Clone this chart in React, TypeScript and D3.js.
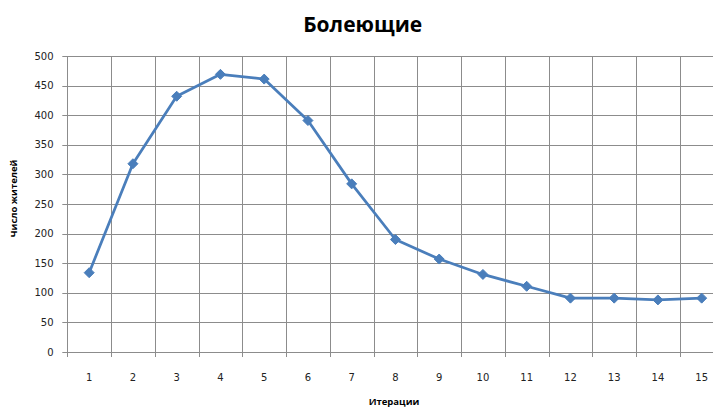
import React from "react";
import * as d3 from "d3";

const iterations = [1, 2, 3, 4, 5, 6, 7, 8, 9, 10, 11, 12, 13, 14, 15];
const sick = [134, 318, 432, 469, 461, 391, 284, 190, 157, 131, 111, 91, 91, 88, 91];
const yTicks = [0, 50, 100, 150, 200, 250, 300, 350, 400, 450, 500];
const title = "Болеющие";
const xTitle = "Итерации";
const yTitle = "Число жителей";

const W = 713;
const H = 408;
const left = 67.3;
const step = 43.75;
const right = left + step * iterations.length;
const top = 56;
const bottom = 352;

export default function App() {
  const x = d3
    .scaleBand<number>()
    .domain(iterations)
    .range([left, right])
    .padding(0);
  const y = d3.scaleLinear().domain([0, 500]).range([bottom, top]);
  const cx = (d: number) => (x(d) as number) + x.bandwidth() / 2;
  const line = d3
    .line<number>()
    .x((_, i) => cx(iterations[i]))
    .y((d) => y(d))
    .curve(d3.curveLinear);
  const gridColor = "#8c8c8c";
  const blue = "#4a7ebb";
  const boundaries = iterations.map((d) => x(d) as number).concat([right]);
  const diamond = (px: number, py: number, r: number) =>
    `M${px},${py - r}L${px + r},${py}L${px},${py + r}L${px - r},${py}Z`;

  return (
    <svg
      width={W}
      height={H}
      style={{ position: "absolute", left: 0, top: 0, background: "#fff" }}
    >
      <rect x={0} y={0} width={W} height={H} fill="#fff" />
      {yTicks.map((t) => (
        <line
          key={"h" + t}
          x1={left - 5}
          x2={Math.min(right, W)}
          y1={Math.round(y(t)) + 0.5}
          y2={Math.round(y(t)) + 0.5}
          stroke={gridColor}
          strokeWidth={1}
        />
      ))}
      {boundaries.map((b, i) => (
        <line
          key={"v" + i}
          x1={Math.round(b) + 0.5}
          x2={Math.round(b) + 0.5}
          y1={top}
          y2={bottom + 5}
          stroke={gridColor}
          strokeWidth={1}
        />
      ))}
      {yTicks.map((t) => (
        <text
          key={"yl" + t}
          x={53.5}
          y={y(t)}
          dy="0.35em"
          textAnchor="end"
          fontFamily="DejaVu Sans, Verdana, sans-serif"
          fontSize={10}
          fill="#222"
        >
          {t}
        </text>
      ))}
      {iterations.map((d) => (
        <text
          key={"xl" + d}
          x={cx(d)}
          y={381}
          textAnchor="middle"
          fontFamily="DejaVu Sans, Verdana, sans-serif"
          fontSize={10}
          fill="#222"
        >
          {d}
        </text>
      ))}
      <path d={line(sick) || ""} fill="none" stroke={blue} strokeWidth={2.75} strokeLinejoin="round" />
      {sick.map((v, i) => (
        <path key={"m" + i} d={diamond(cx(iterations[i]), y(v), 5)} fill={blue} stroke={blue} strokeWidth={1} />
      ))}
      <text
        x={362.7}
        y={32}
        textAnchor="middle"
        fontFamily="Open Sans, sans-serif"
        fontWeight="bold"
        fontSize={21}
        fill="#000"
      >
        {title}
      </text>
      <text
        x={394}
        y={405}
        textAnchor="middle"
        fontFamily="Open Sans, sans-serif"
        fontWeight="bold"
        fontSize={9.5}
        fill="#000"
      >
        {xTitle}
      </text>
      <text
        transform={`translate(17,198.5) rotate(-90)`}
        textAnchor="middle"
        fontFamily="Open Sans, sans-serif"
        fontWeight="bold"
        fontSize={9.5}
        fill="#000"
      >
        {yTitle}
      </text>
    </svg>
  );
}
